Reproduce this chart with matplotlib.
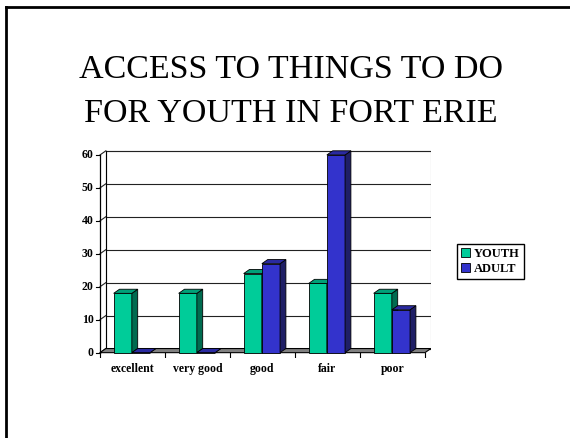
import matplotlib
matplotlib.use("Agg")
import matplotlib.pyplot as plt
from matplotlib.patches import Polygon, Rectangle
from matplotlib.lines import Line2D

categories = ["excellent", "very good", "good", "fair", "poor"]
youth = [18, 18, 24, 21, 18]
adult = [0, 0, 27, 60, 13]
yticks = [0, 10, 20, 30, 40, 50, 60]
series_names = ["YOUTH", "ADULT"]

# front / top / side shades for the fake 3D bars
youth_cols = ("#00cc99", "#00a078", "#006b50")
adult_cols = ("#3333cc", "#2a2aa0", "#1f1f66")

DX, DY = 0.09, 1.25   # depth offset in data units
BW = 0.28

plt.rcParams['font.family'] = ['Liberation Serif', 'DejaVu Serif']

fig = plt.figure(figsize=(5.7, 4.38), dpi=100)

# slide frame (top and left edges only)
fig.add_artist(Line2D([6 / 570, 1], [1 - 7 / 438, 1 - 7 / 438], color="black", lw=2))
fig.add_artist(Line2D([6 / 570, 6 / 570], [0, 1 - 7 / 438], color="black", lw=2))

fig.text(0.51, 1 - 77.5 / 438, "ACCESS TO THINGS TO DO", ha="center", va="baseline", fontsize=24.5)
fig.text(0.51, 1 - 121.5 / 438, "FOR YOUTH IN FORT ERIE", ha="center", va="baseline", fontsize=24.5)

ax = fig.add_axes([94.8 / 570, (438 - 357.6) / 438, (431.5 - 94.8) / 570, (357.6 - 150) / 438])
ax.set_xlim(-0.08, 5.1)
ax.set_ylim(-1.5, 61.5)
ax.axis("off")

n = len(categories)

# back wall with gridlines
ax.add_patch(Rectangle((DX, DY), n, 60, facecolor="white", edgecolor="#999999", lw=0.8, zorder=0))
for v in yticks:
    ax.plot([DX, n + DX], [v + DY, v + DY], color="#222222", lw=0.8, zorder=1)
    ax.plot([0, DX], [v, v + DY], color="#222222", lw=0.8, zorder=1)
    ax.plot([-0.06, 0], [v, v], color="black", lw=0.8, zorder=1)
    ax.text(-0.1, v, str(v), ha="right", va="center", fontsize=8.5, fontweight="bold")
ax.plot([DX, DX], [DY, 60 + DY], color="black", lw=0.8, zorder=1)
ax.plot([0, 0], [0, 60], color="black", lw=0.9, zorder=3)

# floor
ax.add_patch(Polygon([(0, 0), (n, 0), (n + DX, DY), (DX, DY)], closed=True,
                     facecolor="#808080", edgecolor="black", lw=0.8, zorder=2))
for i in range(n + 1):
    ax.plot([i, i], [0, -1.3], color="black", lw=0.8, zorder=2)
for i, c in enumerate(categories):
    ax.text(i + 0.5, -3.0, c, ha="center", va="top", fontsize=8.5, fontweight="bold")


def bar3d(x0, v, cols):
    x1 = x0 + BW
    ax.bar(x0, v, width=BW, align="edge", color=cols[0], edgecolor="black", lw=0.6, zorder=4)
    ax.add_patch(Polygon([(x1, 0), (x1 + DX, DY), (x1 + DX, v + DY), (x1, v)], closed=True,
                         facecolor=cols[2], edgecolor="black", lw=0.6, zorder=4))
    ax.add_patch(Polygon([(x0, v), (x0 + DX, v + DY), (x1 + DX, v + DY), (x1, v)], closed=True,
                         facecolor=cols[1], edgecolor="black", lw=0.6, zorder=4))


for i in range(n):
    bar3d(i + 0.21, youth[i], youth_cols)
    bar3d(i + 0.49, adult[i], adult_cols)

# legend
handles = [Rectangle((0, 0), 1, 1, facecolor=youth_cols[0], edgecolor="black", lw=0.6),
           Rectangle((0, 0), 1, 1, facecolor=adult_cols[0], edgecolor="black", lw=0.6)]
fig.legend(handles, series_names, loc="center", bbox_to_anchor=(490 / 570, 1 - 261.5 / 438),
           frameon=True, fancybox=False, edgecolor="black", framealpha=1,
           prop={"size": 9, "weight": "bold"}, handlelength=0.7, handleheight=0.7,
           handletextpad=0.3, borderpad=0.35, labelspacing=0.25)

fig.savefig("out.png", dpi=100)
